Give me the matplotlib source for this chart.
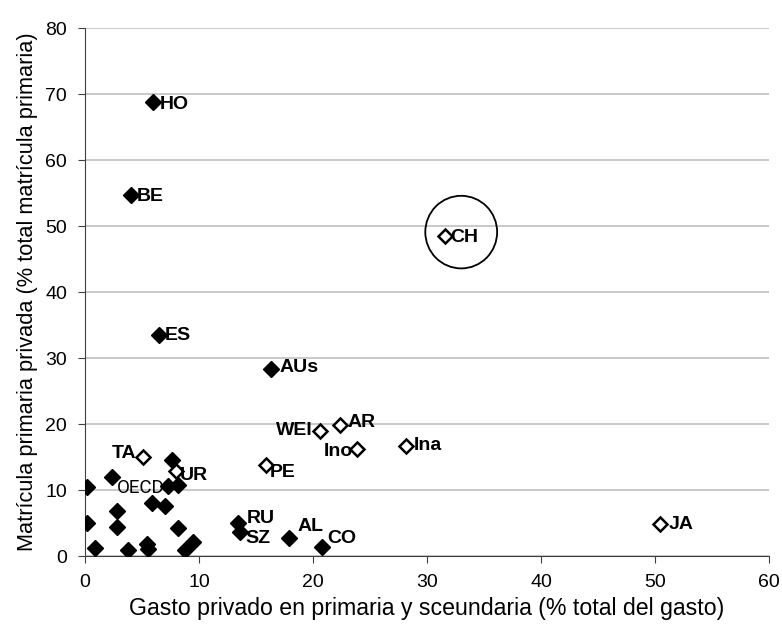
import matplotlib.pyplot as plt
from matplotlib.patches import Ellipse

plt.rcParams['font.family'] = ['Liberation Sans', 'DejaVu Sans']

# filled: OECD countries, hollow: others
filled_x = [6.0, 4.0, 6.5, 16.3, 0.15, 0.15, 0.9, 2.4, 2.85, 2.8, 3.8, 5.4, 5.5,
            5.85, 7.0, 7.6, 7.3, 8.2, 8.2, 8.8, 9.5, 13.45, 13.6, 17.9, 20.8]
filled_y = [68.8, 54.7, 33.5, 28.3, 10.5, 5.1, 1.3, 12.0, 6.8, 4.4, 0.9, 1.9, 1.1,
            8.0, 7.6, 14.5, 10.6, 10.8, 4.3, 0.9, 2.1, 5.0, 3.6, 2.8, 1.4]
hollow_x = [5.1, 8.0, 15.9, 20.6, 22.4, 23.9, 28.2, 31.6, 50.4]
hollow_y = [15.0, 12.9, 13.8, 19.0, 19.8, 16.2, 16.7, 48.5, 4.85]

labels = ['HO', 'BE', 'ES', 'AUs', 'TA', 'UR', 'PE', 'WEI', 'AR', 'Ino', 'Ina',
          'CH', 'JA', 'RU', 'SZ', 'AL', 'CO']
label_x = [6.0, 4.0, 6.5, 16.3, 5.1, 8.0, 15.9, 20.6, 22.4, 23.9, 28.2, 31.6, 50.4,
           13.45, 13.6, 17.9, 20.8]
label_y = [68.8, 54.7, 33.5, 28.3, 15.0, 12.9, 13.8, 19.0, 19.8, 16.2, 16.7, 48.5, 4.85,
           5.0, 3.6, 2.8, 1.4]
# text offsets in pixels (dx, dy, horizontal alignment)
offsets = [(6, -2, 'left'), (6, -1, 'left'), (6, 0, 'left'), (9, 2, 'left'),
           (-7, 4, 'right'), (4, -4, 'left'), (3, -7, 'left'), (-7, 0, 'right'),
           (7, 3, 'left'), (-4, -2, 'right'), (7, 0, 'left'), (5, -1, 'left'),
           (9, 0, 'left'), (8, 5, 'left'), (5, -6, 'left'), (8, 11, 'left'),
           (5, 8, 'left')]

fig = plt.figure(figsize=(7.82, 6.4), dpi=100)
ax = fig.add_axes([0.1087, 0.131, 0.8747, 0.825])

ax.plot(filled_x, filled_y, 'D', color='black', markersize=8, linestyle='none', zorder=3)
ax.plot(hollow_x, hollow_y, 'D', markerfacecolor='white', markeredgecolor='black',
        markeredgewidth=1.8, markersize=7, linestyle='none', zorder=3)

for name, x, y, (dx, dy, ha) in zip(labels, label_x, label_y, offsets):
    ax.annotate(name, (x, y), xytext=(dx, dy), textcoords='offset pixels',
                ha=ha, va='center', fontsize=14, fontweight='bold', zorder=4)

ax.annotate('OECD', (7.3, 10.6), xytext=(-4, -2), textcoords='offset pixels',
            ha='right', va='center', fontsize=13.5, family=['Roboto'], zorder=4)

ax.add_patch(Ellipse((33.0, 49.1), 6.3, 11.0, fill=False, edgecolor='black',
                     linewidth=1.3, zorder=4))

ax.set_xlim(0, 60)
ax.set_ylim(0, 80)
ax.set_xticks(range(0, 61, 10))
ax.set_yticks(range(0, 81, 10))
ax.yaxis.grid(True, color='#c0c0c0', linewidth=1.2)
ax.set_axisbelow(True)
for side in ['top', 'right']:
    ax.spines[side].set_visible(False)
ax.spines['left'].set_color('#404040')
ax.spines['bottom'].set_color('#404040')
ax.tick_params(labelsize=14, length=5, color='#404040', pad=8)

ax.set_xlabel('Gasto privado en primaria y sceundaria (% total del gasto)', fontsize=16.7, labelpad=4)
ax.set_ylabel('Matrícula primaria privada (% total matrícula primaria)', fontsize=15.7, labelpad=5)

fig.savefig('out.png', dpi=100)
